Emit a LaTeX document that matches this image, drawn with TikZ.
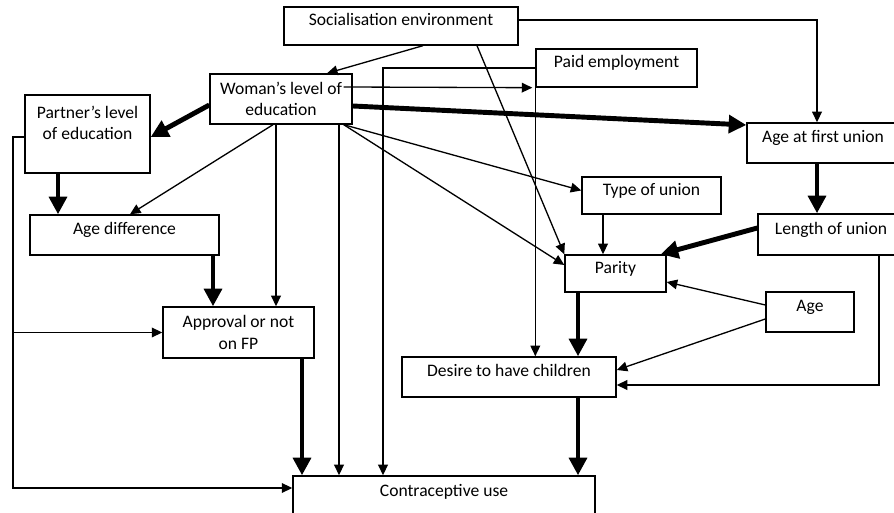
\documentclass[tikz,border=0pt]{standalone}
\usepackage{fontspec}
\setmainfont{Carlito}
\usetikzlibrary{arrows.meta,positioning}
\tikzset{
    box/.style={draw,line width=0.8pt,inner sep=0pt},
    onerow/.style={box,text height=7pt,text depth=7pt},
    tworow/.style={box,align=center},
    link/.style={-{Triangle[length=6pt,width=5.5pt]},line width=0.75pt},
    strong/.style={-{Triangle[length=10pt,width=10pt]},line width=2.8pt}
}

\begin{document}
\begin{tikzpicture}
    \useasboundingbox (0,0) rectangle (17.88,10.26);
    \clip (0,0) rectangle (17.88,10.26);
    % boxes
    \node[onerow,minimum width=4.68cm,minimum height=0.76cm] (soc) at (8.02,9.74) {Socialisation environment};
    \node[tworow,minimum width=2.84cm,minimum height=1.0cm] (wed) at (5.62,8.28) {Woman’s level of\\education};
    \node[tworow,text depth=13pt,minimum width=2.5cm,minimum height=1.56cm] (ped) at (1.75,7.58) {Partner’s level\\of education};
    \node[onerow,minimum width=3.22cm,minimum height=0.76cm] (paid) at (12.33,8.90) {Paid employment};
    \node[onerow,minimum width=3.04cm,minimum height=0.8cm] (afu) at (16.46,7.40) {Age at first union};
    \node[onerow,minimum width=2.78cm,minimum height=0.74cm] (tou) at (13.03,6.35) {Type of union};
    \node[onerow,minimum width=2.92cm,minimum height=0.82cm] (lou) at (16.62,5.57) {Length of union};
    \node[onerow,minimum width=3.78cm,minimum height=0.8cm] (adiff) at (2.49,5.56) {Age difference};
    \node[onerow,minimum width=2.02cm,minimum height=0.74cm] (parity) at (12.31,4.79) {Parity};
    \node[onerow,minimum width=1.76cm,minimum height=0.8cm] (age) at (16.20,4.02) {Age};
    \node[tworow,minimum width=3.02cm,minimum height=1.02cm] (appr) at (4.77,3.61) {Approval or not\\on FP};
    \node[onerow,minimum width=4.28cm,minimum height=0.8cm] (desire) at (10.18,2.72) {Desire to have children};
    \node[onerow,minimum width=6.04cm,minimum height=0.81cm] (cuse) at (8.88,0.335) {Contraceptive use};
    \coordinate (bend) at (0.26,0.50);

    % socialisation environment
    \draw[link] ([xshift=0.44cm]soc.south) -- ([xshift=0.92cm]wed.north);
    \draw[link] ([yshift=0.12cm]soc.east) -| (afu.north -| 16.34,0);
    \draw[link] ([xshift=1.52cm]soc.south) -- (parity.north west);

    % woman's level of education
    \draw[strong] ([yshift=-0.12cm]wed.west) -- ([yshift=-0.06cm]ped.east);
    \draw[link] ([xshift=-0.16cm]wed.south) -- ([xshift=0.11cm]adiff.north);
    \draw[link] (wed.south -| 5.52,0) -- (appr.north -| 5.52,0);
    \draw[link] (wed.south -| 6.78,0) -- (cuse.north -| 6.78,0);
    \draw[link] ([xshift=-0.18cm,yshift=0.24cm]wed.east) -- ([xshift=-0.06cm]paid.south west);
    \draw[strong] ([yshift=-0.14cm]wed.east) -- ([yshift=0.36cm]afu.west);
    \draw[link] ([xshift=-0.18cm]wed.south east) -- ([yshift=0.1cm]tou.west);
    \draw[link] ([xshift=-0.18cm]wed.south east) -- ([yshift=0.17cm]parity.west);

    % partner side
    \draw[strong] (ped.south -| 1.16,0) -- (adiff.north -| 1.16,0);
    \draw[strong] (adiff.south -| 4.26,0) -- (appr.north -| 4.26,0);
    \draw[link] ([yshift=-0.06cm]ped.west) -| (bend) -- (cuse.west |- bend);
    \draw[link] (bend |- appr.west) -- (appr.west);
    \draw[strong] (appr.south -| 6.04,0) -- (cuse.north -| 6.04,0);

    % employment and union
    \draw[link] (paid.west) -| (cuse.north -| 7.66,0);
    \draw[link] (paid.south west) -- (paid.south west |- desire.north);
    \draw[link] (tou.south -| 12.06,0) -- (parity.north -| 12.06,0);
    \draw[strong] (afu.south -| 16.34,0) -- (lou.north -| 16.34,0);
    \draw[strong] ([yshift=0.13cm]lou.west) -- ([xshift=-0.12cm]parity.north east);
    \draw[link] (lou.south -| 17.58,0) |- ([yshift=-0.16cm]desire.east);
    \draw[link] ([yshift=0.14cm]age.west) -- ([yshift=-0.17cm]parity.east);
    \draw[link] ([yshift=-0.14cm]age.west) -- ([yshift=0.14cm]desire.east);
    \draw[strong] (parity.south -| 11.56,0) -- (desire.north -| 11.56,0);
    \draw[strong] (desire.south -| 11.56,0) -- (cuse.north -| 11.56,0);
\end{tikzpicture}
\end{document}
